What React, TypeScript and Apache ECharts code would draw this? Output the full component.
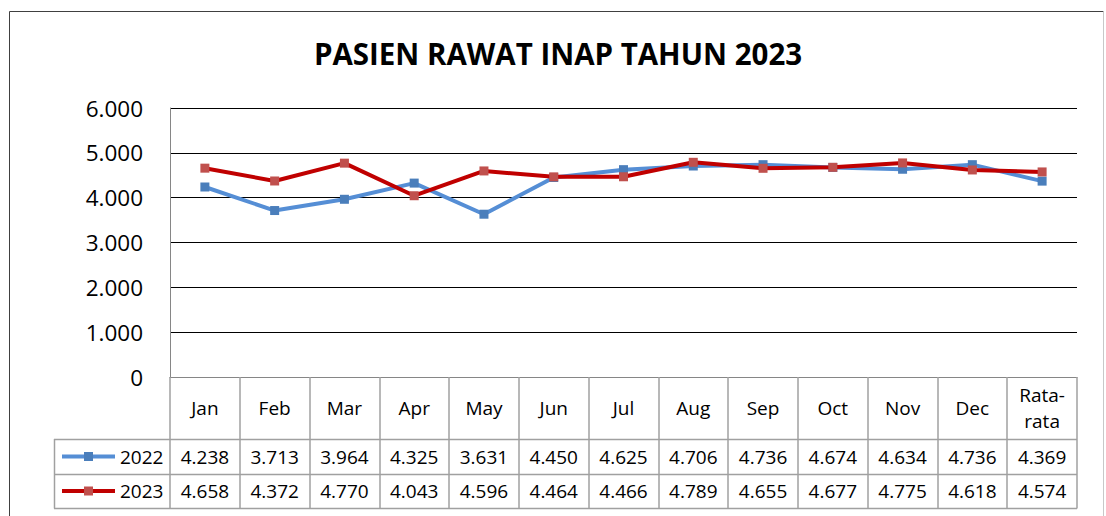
import React, { useEffect, useRef } from "react";
import * as echarts from "echarts";

const categories = ["Jan", "Feb", "Mar", "Apr", "May", "Jun", "Jul", "Aug", "Sep", "Oct", "Nov", "Dec", "Rata-\nrata"];
const series2022 = [4238, 3713, 3964, 4325, 3631, 4450, 4625, 4706, 4736, 4674, 4634, 4736, 4369];
const series2023 = [4658, 4372, 4770, 4043, 4596, 4464, 4466, 4789, 4655, 4677, 4775, 4618, 4574];
const seriesNames = ["2022", "2023"];
const yTicks = { min: 0, max: 6000, interval: 1000 };
const title = "PASIEN RAWAT INAP TAHUN 2023";

const FONT = "'Open Sans', 'Noto Sans', sans-serif";
const fmt = (v: number) => (v === 0 ? "0" : String(v).replace(/\B(?=(\d{3})+(?!\d))/g, "."));

export default function App() {
  const ref = useRef<HTMLDivElement>(null);
  useEffect(() => {
    if (!ref.current) return;
    const chart = echarts.init(ref.current, null, { renderer: "svg" });
    const gl = 170, gt = 108, gr = 1077, gb = 377;
    const cw = (gr - gl) / categories.length;
    const row1 = 439, row2 = 474, row3 = 508, legL = 54;
    const tableColor = "#a0a0a0";
    const lineColors = ["#558ed5", "#c00000"];
    const markColors = ["#4a7ebb", "#c0504d"];
    const allData = [series2022, series2023];

    const graphic: any[] = [];
    // outer chart border
    graphic.push({ type: "line", shape: { x1: 9.5, y1: 11.5, x2: 9.5, y2: 520 }, style: { stroke: "#404040", lineWidth: 1 } });
    graphic.push({ type: "line", shape: { x1: 9.5, y1: 11.5, x2: 1103.5, y2: 11.5 }, style: { stroke: "#404040", lineWidth: 1 } });
    graphic.push({ type: "line", shape: { x1: 1103.5, y1: 11.5, x2: 1103.5, y2: 520 }, style: { stroke: "#c8c8c8", lineWidth: 1 } });
    graphic.push({
      type: "text", x: 558, y: 53,
      style: { text: title, font: `bold 29.5px ${FONT}`, fill: "#000", textAlign: "center", textVerticalAlign: "middle" },
    });
    // table horizontal lines
    [row1, row2, row3].forEach((y) => {
      graphic.push({ type: "line", shape: { x1: legL, y1: y + 0.5, x2: gr, y2: y + 0.5 }, style: { stroke: tableColor, lineWidth: 1.5 } });
    });
    graphic.push({ type: "line", shape: { x1: legL + 0.5, y1: row1, x2: legL + 0.5, y2: row3 + 0.5 }, style: { stroke: tableColor, lineWidth: 1.5 } });
    // rows
    const rowsY = [(row1 + row2) / 2, (row2 + row3) / 2];
    allData.forEach((arr, si) => {
      const y = rowsY[si];
      graphic.push({ type: "line", shape: { x1: 62, y1: y, x2: 115, y2: y }, style: { stroke: lineColors[si], lineWidth: 4 } });
      graphic.push({ type: "rect", shape: { x: 84, y: y - 4.5, width: 9, height: 9 }, style: { fill: markColors[si] } });
      graphic.push({
        type: "text", x: 120, y,
        style: { text: seriesNames[si], font: `19px ${FONT}`, fill: "#000", textAlign: "left", textVerticalAlign: "middle" },
      });
      arr.forEach((v, i) => {
        graphic.push({
          type: "text", x: gl + (i + 0.5) * cw, y,
          style: { text: fmt(v), font: `19px ${FONT}`, fill: "#000", textAlign: "center", textVerticalAlign: "middle" },
        });
      });
    });

    const mk = (si: number) => ({
      name: seriesNames[si],
      type: "line",
      data: allData[si],
      symbol: "rect",
      symbolSize: 9,
      lineStyle: { color: lineColors[si], width: 4 },
      itemStyle: { color: markColors[si] },
      z: 2 + si,
    });

    chart.setOption({
      animation: false,
      backgroundColor: "#fff",
      grid: { left: gl, top: gt, right: 1106 - gr, bottom: 516 - gb, containLabel: false, outerBoundsMode: "none" },
      xAxis: {
        type: "category",
        data: categories,
        boundaryGap: true,
        axisLine: { show: true, lineStyle: { color: "#868686", width: 1 } },
        axisTick: { show: true, length: row3 - gb + 0.5, lineStyle: { color: tableColor, width: 1.5 } },
        axisLabel: { margin: 31, fontFamily: FONT, fontSize: 19, color: "#000", lineHeight: 26, verticalAlign: "middle", interval: 0 },
      },
      yAxis: {
        type: "value",
        min: yTicks.min,
        max: yTicks.max,
        interval: yTicks.interval,
        axisLine: { show: true, lineStyle: { color: "#868686", width: 1 } },
        axisTick: { show: false },
        splitLine: { show: true, lineStyle: { color: "#000", width: 1 } },
        axisLabel: { margin: 27, fontFamily: FONT, fontSize: 22.5, color: "#000", formatter: (v: number) => fmt(v) },
      },
      series: [mk(0), mk(1)],
      graphic,
    });
    return () => chart.dispose();
  }, []);
  return <div ref={ref} style={{ position: "fixed", left: 0, top: 0, width: 1106, height: 516, background: "#fff" }} />;
}
